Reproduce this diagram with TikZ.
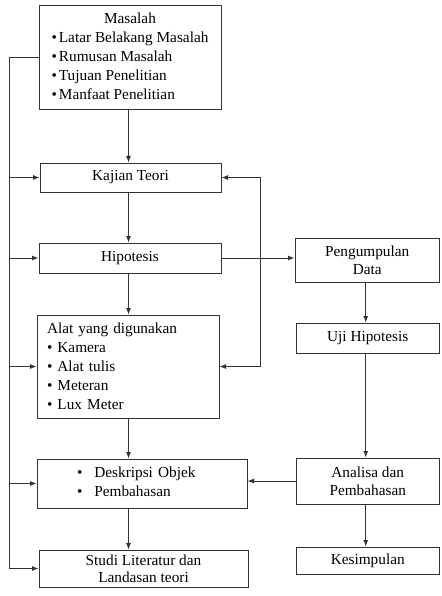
\documentclass[tikz,border=0pt]{standalone}
\usepackage{fontspec}
\setmainfont{Liberation Serif}
\usetikzlibrary{arrows.meta}

\begin{document}
\begin{tikzpicture}[x=1pt,y=-1pt,
  >={Latex[length=6.5pt,width=5pt]},
  box/.style={draw=black!80,line width=1pt,fill=white,inner sep=2pt,align=center,font=\fontsize{15.3}{19}\selectfont},
  link/.style={->,draw=black!80,line width=1pt}]
      \useasboundingbox (0,0) rectangle (441,596);

      % left column
      \node[box,minimum width=182pt,minimum height=104pt] (masalah) at (130,58)
        {\begin{tabular}{@{}l@{}}
          \multicolumn{1}{@{}c@{}}{Masalah}\\
          \textbullet\hspace{2pt}Latar Belakang Masalah\\
          \textbullet\hspace{2pt}Rumusan Masalah\\
          \textbullet\hspace{2pt}Tujuan Penelitian\\
          \textbullet\hspace{2pt}Manfaat Penelitian
        \end{tabular}};
      \node[box,minimum width=181pt,minimum height=29pt] (kajian) at (130.5,177.5) {Kajian Teori};
      \node[box,minimum width=182pt,minimum height=30pt] (hipotesis) at (130,258) {Hipotesis};
      \node[box,minimum width=182pt,minimum height=103pt,inner xsep=10pt,text width=162pt,align=left] (alat) at (128,366.5)
        {Alat yang digunakan\\
         \textbullet\ Kamera\\
         \textbullet\ Alat tulis\\
         \textbullet\ Meteran\\
         \textbullet\ Lux Meter};
      \node[box,minimum width=210pt,minimum height=49pt,inner xsep=0pt,text width=210pt,align=left] (deskripsi) at (142,483.5)
        {\begin{tabular}{@{\hspace{40pt}}l@{\hspace{12pt}}l@{}}
          \textbullet & Deskripsi Objek\\
          \textbullet & Pembahasan
        \end{tabular}};
      \node[box,minimum width=209pt,minimum height=37pt,inner sep=0pt] (studi) at (143.5,568.5)
        {Studi Literatur dan\\[-2pt] Landasan teori};

      % right column
      \node[box,minimum width=144.5pt,minimum height=44pt] (pengumpulan) at (367.25,260) {Pengumpulan\\[-1pt] Data};
      \node[box,minimum width=143.5pt,minimum height=30pt] (uji) at (367.75,338) {Uji Hipotesis};
      \node[box,minimum width=143.5pt,minimum height=46pt] (analisa) at (367.75,481) {Analisa dan\\[-1pt] Pembahasan};
      \node[box,minimum width=143.5pt,minimum height=27pt] (kesimpulan) at (367.75,560.5) {Kesimpulan};

      \coordinate (bus) at (9,58);
      \coordinate (loop) at (260,178);

      % main flow
      \draw[link] (masalah.south -| kajian.south) ++(-2,0) coordinate (m1) -- (m1 |- kajian.north);
      \draw[link] (m1 |- kajian.south) -- (m1 |- hipotesis.north);
      \draw[link] (m1 |- hipotesis.south) -- (m1 |- alat.north);
      \draw[link] (m1 |- alat.south) -- (m1 |- deskripsi.north);
      \draw[link] (m1 |- deskripsi.south) -- (m1 |- studi.north);

      % left bus
      \draw[link] (masalah.west) -- (bus) -- (bus |- studi.west) -- (studi.west);
      \draw[link] (bus |- kajian.west) -- (kajian.west);
      \draw[link] (bus |- hipotesis.west) -- (hipotesis.west);
      \draw[link] (bus |- alat.west) -- (alat.west);
      \draw[link] (bus |- deskripsi.west) -- (deskripsi.west);

      % feedback loop
      \draw[link,<->] (kajian.east) -- (kajian.east -| loop) -- (loop |- alat.east) -- (alat.east);

      % right flow
      \draw[link] (hipotesis.east) -- (hipotesis.east -| pengumpulan.west);
      \draw[link] (pengumpulan.south) ++(-1.5,0) coordinate (r1) -- (r1 |- uji.north);
      \draw[link] (r1 |- uji.south) -- (r1 |- analisa.north);
      \draw[link] (r1 |- analisa.south) -- (r1 |- kesimpulan.north);
      \draw[link] (analisa.west) -- (analisa.west -| deskripsi.east);
\end{tikzpicture}
\end{document}
